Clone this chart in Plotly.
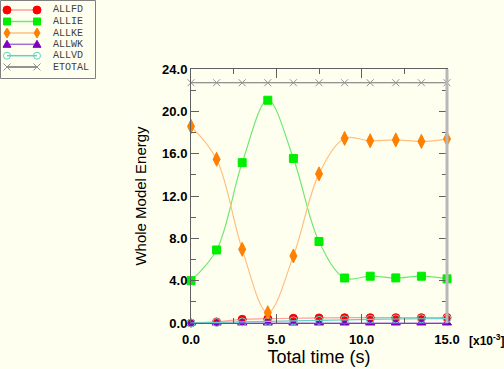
import plotly.graph_objects as go

time_ms = [0.0, 1.5, 3.0, 4.5, 6.0, 7.5, 9.0, 10.5, 12.0, 13.5, 15.0]
allfd = [0.0, 0.1, 0.35, 0.4, 0.45, 0.48, 0.5, 0.5, 0.5, 0.5, 0.52]
allie = [4.0, 6.9, 15.15, 21.05, 15.55, 7.7, 4.25, 4.42, 4.26, 4.42, 4.17]
allke = [18.57, 15.47, 6.96, 0.97, 6.34, 14.09, 17.44, 17.22, 17.3, 17.16, 17.38]
allwk = [0.0, 0.0, 0.0, 0.0, 0.0, 0.0, 0.0, 0.0, 0.0, 0.0, 0.0]
allvd = [0.0, 0.05, 0.1, 0.15, 0.2, 0.25, 0.3, 0.35, 0.38, 0.4, 0.42]
etotal = [22.7, 22.7, 22.7, 22.7, 22.7, 22.7, 22.7, 22.7, 22.7, 22.7, 22.7]
series_names = ["ALLFD", "ALLIE", "ALLKE", "ALLWK", "ALLVD", "ETOTAL"]

styles = {
    "ALLFD": ("#FF0000", "#FF9C9C", "circle", 8),
    "ALLIE": ("#00EE00", "#70E870", "square", 8),
    "ALLKE": ("#FF8000", "#FFBF80", "diamond-tall", 10),
    "ALLWK": ("#8000C0", "#A070D8", "triangle-up", 8),
    "ALLVD": ("#60D0C8", "#60D0C8", "circle-open", 8),
    "ETOTAL": ("#909090", "#707070", "x-thin-open", 7),
}
values = dict(zip(series_names, [allfd, allie, allke, allwk, allvd, etotal]))

W, H = 504, 369
L, R, T, B = 191, 57, 69, 46
PW, PH = W - L - R, H - T - B
bg = "#FFFFF0"


def px(x):
    return (x - L) / PW


def py(y):
    return (H - B - y) / PH


fig = go.Figure()
for name in series_names:
    mc, lc, sym, sz = styles[name]
    fig.add_trace(go.Scatter(
        x=time_ms, y=values[name], name=name, mode="lines+markers",
        cliponaxis=False,
        line=dict(color=lc, width=1.2, shape="spline", smoothing=1.0),
        marker=dict(color=mc, symbol=sym, size=sz, line=dict(color=mc, width=1)),
    ))

fig.update_layout(
    width=W, height=H,
    margin=dict(l=L, r=R, t=T, b=B),
    paper_bgcolor=bg, plot_bgcolor=bg,
    font=dict(family="Liberation Sans, Arial", color="#000000"),
    showlegend=False,
    xaxis=dict(
        range=[0, 15], tickvals=[0, 5, 10, 15], tickformat=".1f",
        automargin=False,
        ticks="inside", ticklen=9, tickcolor="#606060", tickwidth=1,
        ticklabelstandoff=4,
        minor=dict(dtick=2.5, ticks="inside", ticklen=5, tickcolor="#606060"),
        showline=True, linecolor="#606060", linewidth=1, mirror="ticks",
        showgrid=False, zeroline=False,
        tickfont=dict(family="Liberation Sans, Arial", size=13, weight="bold"),
        title=dict(text="Total time (s)", font=dict(size=18), standoff=4),
    ),
    yaxis=dict(
        range=[0, 24], dtick=4, tickformat=".1f",
        automargin=False,
        ticks="inside", ticklen=8, tickcolor="#606060", tickwidth=1,
        minor=dict(dtick=2, ticks="inside", ticklen=5, tickcolor="#606060"),
        showline=True, linecolor="#606060", linewidth=1, mirror="ticks",
        showgrid=False, zeroline=False,
        tickfont=dict(family="Liberation Sans, Arial", size=13, weight="bold"),
        title=dict(text="Whole Model Energy", font=dict(size=15), standoff=11),
    ),
)

shapes = []
# right frame edge
shapes.append(dict(type="line", xref="paper", yref="paper", x0=1, x1=1, y0=0, y1=1,
                   line=dict(color="#B8B8B8", width=3)))
# legend box
shapes.append(dict(type="rect", xref="paper", yref="paper",
                   x0=px(0.5), x1=px(95.5), y0=py(0.5), y1=py(78.5),
                   line=dict(color="#808080", width=1), fillcolor=bg))

row_y = [10, 21.5, 33, 44.3, 55.7, 67]
xa, xb = 7, 37


def marker_shape(sym, cx, cy, color):
    if sym == "circle":
        return [dict(type="circle", xref="paper", yref="paper",
                     x0=px(cx - 4), x1=px(cx + 4), y0=py(cy - 4), y1=py(cy + 4),
                     line=dict(color=color, width=1), fillcolor=color)]
    if sym == "circle-open":
        return [dict(type="circle", xref="paper", yref="paper",
                     x0=px(cx - 3.5), x1=px(cx + 3.5), y0=py(cy - 3.5), y1=py(cy + 3.5),
                     line=dict(color=color, width=1))]
    if sym == "square":
        return [dict(type="rect", xref="paper", yref="paper",
                     x0=px(cx - 3.5), x1=px(cx + 3.5), y0=py(cy - 3.5), y1=py(cy + 3.5),
                     line=dict(color=color, width=1), fillcolor=color)]
    if sym == "diamond-tall":
        pts = [(cx, cy - 5), (cx + 3, cy), (cx, cy + 5), (cx - 3, cy)]
    elif sym == "triangle-up":
        pts = [(cx, cy - 4), (cx + 4, cy + 3), (cx - 4, cy + 3)]
    else:  # x
        return [dict(type="path", xref="paper", yref="paper",
                     path="M{},{} L{},{} M{},{} L{},{}".format(
                         px(cx - 3.5), py(cy - 3.5), px(cx + 3.5), py(cy + 3.5),
                         px(cx - 3.5), py(cy + 3.5), px(cx + 3.5), py(cy - 3.5)),
                     line=dict(color=color, width=1))]
    path = "M" + " L".join("{},{}".format(px(a), py(b)) for a, b in pts) + " Z"
    return [dict(type="path", xref="paper", yref="paper", path=path,
                 line=dict(color=color, width=1), fillcolor=color)]


annotations = []
for name, ry in zip(series_names, row_y):
    mc, lc, sym, sz = styles[name]
    shapes.append(dict(type="line", xref="paper", yref="paper",
                       x0=px(xa), x1=px(xb), y0=py(ry), y1=py(ry),
                       line=dict(color=lc, width=1.5)))
    shapes += marker_shape(sym, xa, ry, mc)
    shapes += marker_shape(sym, xb, ry, mc)
    annotations.append(dict(xref="paper", yref="paper", x=px(51), y=py(ry),
                            xanchor="left", yanchor="middle", showarrow=False,
                            text=name,
                            font=dict(family="Liberation Mono, Courier New", size=10,
                                      color="#404040")))

annotations.append(dict(xref="paper", yref="paper", x=1, y=0, xanchor="left",
                        yanchor="middle", xshift=20, yshift=-17, showarrow=False,
                        text="[x10<sup>-3</sup>]",
                        font=dict(family="Liberation Sans, Arial", size=12, weight="bold")))

fig.update_layout(shapes=shapes, annotations=annotations)
fig.write_html("out.html",
               config={"displayModeBar": False},
               post_script="document.body.style.margin='0';document.body.style.background='#FFFFF0';")
